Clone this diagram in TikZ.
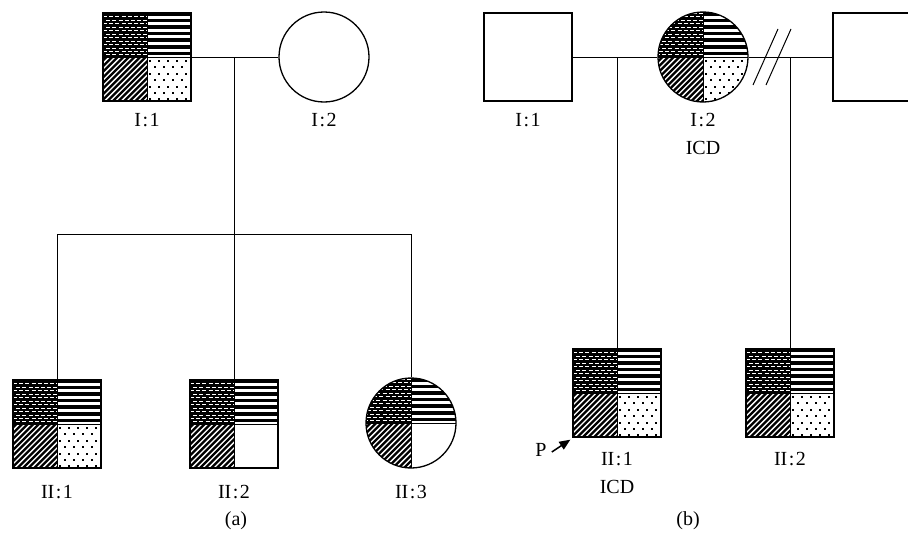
\documentclass[tikz,border=0pt]{standalone}
\usepackage{fontspec}
\setmainfont{Liberation Serif}
\usetikzlibrary{arrows.meta}
\newcommand\cl{\kern1.5pt:\kern1.5pt}
% pattern quadrants (x y = centre)
\newcommand\pTL[2]{%
  \fill (#1-46,#2-46) rectangle (#1,#2);
  \foreach \r in {0,...,12}{%
    \pgfmathsetmacro\off{mod(\r,2)*3.2}%
    \draw[white,line width=1pt,dash pattern=on 4pt off 2.2pt] (#1-47-\off,#2-43.5+\r*3.45) -- (#1+1,#2-43.5+\r*3.45);}}
\newcommand\pTR[2]{%
  \foreach \r in {0,...,6}{\fill (#1,#2-45+\r*6.6) rectangle (#1+46,#2-45+\r*6.6+3.5);}}
\newcommand\pBL[2]{%
  \foreach \k in {0,...,18}{\draw[line width=2.3pt] (#1-96+\k*5.6,#2+50) -- ++(55,-55);}}
\newcommand\pBR[2]{%
  \foreach \r in {0,...,6}{\foreach \c in {0,...,5}{%
    \pgfmathsetmacro\dx{mod(\r,2)*4.5}%
    \fill (#1+3+\c*9+\dx-1,#2+4+\r*6.4-1) rectangle ++(2,2);}}}
\newcommand\quads[3]{%
  \begin{scope}\clip (#1-46,#2-46) rectangle (#1,#2);\pTL{#1}{#2}\end{scope}
  \begin{scope}\clip (#1,#2-46) rectangle (#1+46,#2);\pTR{#1}{#2}\end{scope}
  \begin{scope}\clip (#1-46,#2) rectangle (#1,#2+46);\pBL{#1}{#2}\end{scope}
  \ifnum#3=1 \begin{scope}\clip (#1,#2) rectangle (#1+46,#2+46);\pBR{#1}{#2}\end{scope}\fi
  \draw[line width=0.8pt] (#1-46,#2)--(#1+46,#2) (#1,#2-46)--(#1,#2+46);}
\newcommand\sqpat[3]{\begin{scope}\clip (#1-44,#2-44) rectangle (#1+44,#2+44);\quads{#1}{#2}{#3}\end{scope}}
\newcommand\cipat[3]{\begin{scope}\clip (#1,#2) circle (45pt);\quads{#1}{#2}{#3}\end{scope}}
\begin{document}
\begin{tikzpicture}[x=1pt,y=-1pt,
  sq/.style={draw,line width=1.3pt,rectangle,minimum size=88pt,inner sep=0pt},
  ci/.style={draw,line width=1.3pt,circle,minimum size=90pt,inner sep=0pt},
  conn/.style={line width=1pt},
  lab/.style={font=\fontsize{20}{24}\selectfont,inner sep=0pt}]
\useasboundingbox[fill=white] (0,0) rectangle (908,538);
% ---------- panel (a) ----------
\sqpat{147}{57}{1}
\node[sq] (a1) at (147,57) {};
\node[ci] (a2) at (324,57) {};
\sqpat{57}{424}{1}
\node[sq] (a3) at (57,424) {};
\sqpat{234}{424}{0}
\node[sq] (a4) at (234,424) {};
\cipat{411}{423}{0}
\node[ci] (a5) at (411,423) {};
\coordinate (am) at (234,57);
\coordinate (as) at (234,234);
\coordinate (sl) at (57,234);
\coordinate (sr) at (411,234);
\draw[conn] (a1.east) -- (a2.west);
\draw[conn] (am) -- (as);
\draw[conn] (sl) -- (sr);
\draw[conn] (sl) -- (a3.north);
\draw[conn] (as) -- (a4.north);
\draw[conn] (sr) -- (a5.north);
\node[lab] (la1) at (147,120) {I\cl1};
\node[lab] (la2) at (324,120) {I\cl2};
\node[lab] (la3) at (57,492) {II\cl1};
\node[lab] (la4) at (234,492) {II\cl2};
\node[lab] (la5) at (411,492) {II\cl3};
\node[lab] (capa) at (236,521) {(a)};
% ---------- panel (b) ----------
\node[sq] (b1) at (528,57) {};
\cipat{703}{57}{1}
\node[ci] (b2) at (703,57) {};
\node[sq] (b3) at (877,57) {};
\sqpat{617}{393}{1}
\node[sq] (b4) at (617,393) {};
\sqpat{790}{393}{1}
\node[sq] (b5) at (790,393) {};
\coordinate (bm1) at (617,57);
\coordinate (bm2) at (790,57);
\draw[conn] (b1.east) -- (b2.west);
\draw[conn] (b2.east) -- (b3.west);
\draw[conn] (bm1) -- (b4.north);
\draw[conn] (bm2) -- (b5.north);
\draw[conn] (753,85) -- (778,29);
\draw[conn] (766,85) -- (791,29);
\node[lab] (lb1) at (528,120) {I\cl1};
\node[lab] (lb2) at (703,120) {I\cl2};
\node[lab] (lb2i) at (703,148) {ICD};
\node[lab] (lb4) at (617,459) {II\cl1};
\node[lab] (lb4i) at (617,487) {ICD};
\node[lab] (lb5) at (790,459) {II\cl2};
\node[lab] (P) at (541,450) {P};
\draw[line width=1.5pt,-{Triangle[length=11pt,width=9pt]}] ([shift={(5,2)}]P.east) -- ([shift={(-2,2)}]b4.south west);
\node[lab] (capb) at (688,521) {(b)};
\end{tikzpicture}
\end{document}
